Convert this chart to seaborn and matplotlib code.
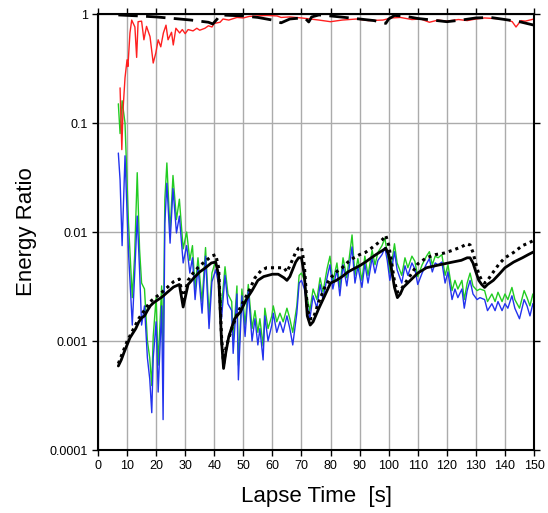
import numpy as np
import pandas as pd
import matplotlib
matplotlib.use("Agg")
import matplotlib.pyplot as plt
import matplotlib.ticker as mticker
import seaborn as sns

# Estilo base
sns.set_style("ticks")
plt.rcParams['font.family'] = ['Liberation Sans', 'DejaVu Sans']
plt.rcParams['text.color'] = 'black'
plt.rcParams['axes.labelcolor'] = 'black'

# --- Datos ---
# Componentes verde / azul (mismo eje de tiempo)
t_gb = [7.0, 7.6, 8.3, 9.3, 10.5, 11.8, 12.6, 13.5, 14.3, 15.0,
        16.0, 17.0, 17.8, 18.5, 19.0, 20.0, 20.7, 21.9, 22.4, 23.0,
        23.7, 24.8, 25.8, 27.0, 28.0, 29.3, 30.5, 31.6, 32.5, 33.4,
        34.4, 35.8, 37.0, 38.2, 39.2, 40.5, 41.5, 42.5, 43.7, 44.7,
        46.0, 46.5, 47.8, 48.3, 49.5, 50.6, 51.7, 53.0, 54.0, 55.0,
        55.7, 56.8, 57.4, 58.5, 59.8, 60.3, 61.5, 62.6, 63.7, 65.0,
        66.0, 67.0, 68.4, 69.2, 70.0, 71.0, 71.8, 72.9, 74.0, 75.3,
        76.4, 77.4, 78.8, 79.8, 80.8, 82.2, 83.2, 84.3, 85.6, 87.4,
        88.4, 89.4, 90.8, 91.8, 92.9, 94.3, 95.3, 96.3, 97.7, 98.7,
        99.5, 100.4, 101.5, 102.0, 102.9, 104.5, 105.6, 106.6, 108.0, 109.0,
        110.0, 111.5, 113.0, 114.0, 115.0, 116.0, 117.0, 118.3, 119.4, 120.4,
        121.8, 122.8, 123.8, 125.2, 126.0, 127.0, 128.0, 129.0, 130.4, 131.4,
        133.0, 134.0, 135.5, 136.6, 137.6, 139.0, 140.0, 141.0, 142.4, 143.4,
        145.0, 146.6, 147.6, 148.6, 149.6, 150.0]

azul = [0.053, 0.030, 0.0075, 0.050, 0.0065, 0.0014, 0.0040, 0.014, 0.0045, 0.0014,
        0.0021, 0.0007, 0.00045, 0.00022, 0.0007, 0.0015, 0.00034, 0.0021, 0.00019, 0.012,
        0.028, 0.0079, 0.025, 0.0098, 0.014, 0.0052, 0.0075, 0.0042, 0.0058, 0.0024,
        0.0048, 0.0018, 0.0060, 0.0013, 0.0035, 0.0045, 0.0033, 0.0016, 0.0040, 0.0022,
        0.0019, 0.00077, 0.0027, 0.00044, 0.0026, 0.0011, 0.0029, 0.0010, 0.0016, 0.00092,
        0.0013, 0.00067, 0.0017, 0.0010, 0.0014, 0.0018, 0.0012, 0.0015, 0.0012, 0.0017,
        0.0013, 0.00092, 0.0018, 0.0034, 0.0036, 0.0030, 0.0022, 0.0016, 0.0026, 0.0020,
        0.0033, 0.0024, 0.0038, 0.0050, 0.0030, 0.0045, 0.0026, 0.0050, 0.0032, 0.0073,
        0.0034, 0.0048, 0.0031, 0.0051, 0.0034, 0.0058, 0.0042, 0.0055, 0.0062, 0.0072,
        0.0055, 0.0036, 0.0055, 0.0066, 0.0045, 0.0034, 0.0049, 0.0040, 0.0052, 0.0046,
        0.0033, 0.0042, 0.0051, 0.0057, 0.0043, 0.0052, 0.0050, 0.0053, 0.0034, 0.0043,
        0.0024, 0.0030, 0.0025, 0.0030, 0.0020, 0.0029, 0.0036, 0.0027, 0.0024, 0.0025,
        0.0024, 0.0019, 0.0022, 0.0019, 0.0023, 0.0019, 0.0022, 0.0020, 0.0026, 0.0020,
        0.0016, 0.0024, 0.0021, 0.0017, 0.0022, 0.0020]

verde = [0.15, 0.08, 0.16, 0.10, 0.012, 0.0025, 0.0060, 0.035, 0.0070, 0.0034,
         0.0030, 0.0010, 0.0007, 0.00039, 0.0011, 0.0025, 0.0006, 0.0032, 0.0007, 0.020,
         0.043, 0.010, 0.033, 0.013, 0.020, 0.0070, 0.010, 0.0055, 0.0075, 0.0030,
         0.0058, 0.0023, 0.0072, 0.0017, 0.0042, 0.0055, 0.0040, 0.0021, 0.0048, 0.0027,
         0.0023, 0.0010, 0.0032, 0.0006, 0.0030, 0.0014, 0.0033, 0.0013, 0.0019, 0.0012,
         0.0016, 0.0009, 0.0020, 0.0013, 0.0017, 0.0021, 0.0015, 0.0018, 0.0015, 0.0020,
         0.0016, 0.0012, 0.0021, 0.0040, 0.0042, 0.0036, 0.0026, 0.0019, 0.0030, 0.0024,
         0.0038, 0.0028, 0.0046, 0.0060, 0.0035, 0.0052, 0.0031, 0.0058, 0.0038, 0.0094,
         0.0040, 0.0057, 0.0036, 0.0060, 0.0040, 0.0068, 0.0050, 0.0065, 0.0075, 0.0088,
         0.0064, 0.0042, 0.0063, 0.0078, 0.0052, 0.0040, 0.0058, 0.0047, 0.0060, 0.0054,
         0.0039, 0.0050, 0.0060, 0.0066, 0.0050, 0.0060, 0.0058, 0.0062, 0.0040, 0.0050,
         0.0029, 0.0036, 0.0030, 0.0036, 0.0024, 0.0034, 0.0042, 0.0032, 0.0029, 0.0030,
         0.0029, 0.0023, 0.0027, 0.0023, 0.0028, 0.0023, 0.0027, 0.0024, 0.0031, 0.0024,
         0.0020, 0.0029, 0.0025, 0.0021, 0.0027, 0.0024]

# Componente roja (cercana a 1)
t_rojo = [7.6, 8.2, 8.6, 9.3, 10.0, 10.3, 11.0, 11.6, 12.7, 13.3,
          13.8, 15.0, 15.8, 16.7, 17.9, 19.0, 19.9, 20.7, 21.6, 22.5,
          23.4, 24.1, 25.3, 25.9, 26.8, 28.1, 29.0, 30.0, 31.0, 32.7,
          34.0, 35.0, 36.8, 38.0, 39.2, 40.0, 42.0, 43.0, 45.0, 47.8,
          50.0, 52.0, 54.7, 58.0, 61.6, 63.0, 66.0, 70.0, 73.0, 76.0,
          80.0, 84.0, 89.0, 93.0, 98.0, 101.0, 104.0, 108.0, 111.0, 114.0,
          117.0, 120.0, 124.0, 127.0, 130.0, 133.0, 136.0, 139.0, 141.0, 142.5,
          143.8, 145.5, 147.0, 150.0]
rojo = [0.21, 0.057, 0.13, 0.26, 0.38, 0.33, 0.67, 0.88, 0.76, 0.40,
        0.85, 0.86, 0.58, 0.77, 0.62, 0.355, 0.44, 0.58, 0.50, 0.67,
        0.79, 0.58, 0.68, 0.52, 0.74, 0.67, 0.72, 0.66, 0.72, 0.70,
        0.74, 0.71, 0.74, 0.78, 0.76, 0.82, 0.84, 0.90, 0.88, 0.93,
        0.92, 0.95, 0.96, 0.97, 0.96, 0.93, 0.94, 0.92, 0.90, 0.88,
        0.85, 0.88, 0.90, 0.87, 0.88, 0.92, 0.93, 0.89, 0.90, 0.84,
        0.88, 0.86, 0.89, 0.87, 0.90, 0.92, 0.91, 0.90, 0.88, 0.85,
        0.76, 0.87, 0.86, 0.90]

# Curva negra discontinua (arriba)
t_disc = [7, 14, 20, 24, 28, 32, 35, 38, 39.5, 41,
          42, 46, 50, 55, 60, 63, 66, 70, 71.5, 72.5,
          73.5, 76, 80, 85, 90, 95, 99, 100, 102, 106,
          110, 115, 120, 125, 130, 135, 140, 145, 150]
negro_disc = [0.98, 0.96, 0.94, 0.92, 0.90, 0.88, 0.86, 0.84, 0.81, 0.90,
              0.98, 0.97, 0.96, 0.93, 0.88, 0.83, 0.90, 0.92, 0.90, 0.845,
              0.94, 0.98, 0.96, 0.93, 0.90, 0.87, 0.82, 0.90, 0.97, 0.95,
              0.91, 0.88, 0.85, 0.88, 0.92, 0.93, 0.89, 0.85, 0.79]

# Curva negra continua (abajo)
t_cont = [7, 8, 9, 10, 11, 12, 13, 14, 15, 16,
          17, 18, 19, 20, 22, 24, 26, 28, 29.3, 31,
          33, 35, 37, 39, 40.5, 41.5, 42.5, 43.2, 44, 45,
          47, 49, 51, 53, 55, 57, 60, 62, 64, 65,
          66, 68, 69, 70, 71, 72, 73, 74, 76, 78,
          80, 82, 84, 86, 88, 90, 92, 94, 96, 98,
          99, 100, 101, 102, 103, 104, 105, 107, 110, 113,
          116, 119, 122, 125, 127, 128, 129, 130, 131, 132,
          133, 134, 136, 138, 140, 143, 146, 148, 150]
negro_cont = [0.00059, 0.00067, 0.00079, 0.00092, 0.00107, 0.00118, 0.0013, 0.00149, 0.00163, 0.0017,
              0.0019, 0.0021, 0.00223, 0.00233, 0.00253, 0.00282, 0.00313, 0.0033, 0.00205, 0.0033,
              0.0038, 0.0043, 0.0047, 0.0052, 0.0053, 0.0040, 0.0010, 0.00056, 0.00079, 0.0011,
              0.0016, 0.00185, 0.0024, 0.0029, 0.0036, 0.0039, 0.0041, 0.0041, 0.0038, 0.0036,
              0.0039, 0.0053, 0.0058, 0.0058, 0.0040, 0.0017, 0.0014, 0.0015, 0.0020, 0.0026,
              0.0034, 0.0036, 0.0039, 0.0043, 0.0046, 0.0049, 0.0053, 0.0058, 0.0063, 0.0068,
              0.0071, 0.0062, 0.0045, 0.0031, 0.0025, 0.0027, 0.0031, 0.0035, 0.0042, 0.0047,
              0.0049, 0.0051, 0.0053, 0.0055, 0.0058, 0.0058, 0.0052, 0.0043, 0.0036, 0.0033,
              0.0031, 0.0033, 0.0036, 0.0041, 0.0047, 0.0053, 0.0058, 0.0062, 0.0066]

# Curva negra punteada (abajo)
t_punt = [7, 10, 14, 18, 22, 26, 28, 29.3, 31, 33,
          35, 37, 39, 40.5, 41.5, 42.5, 43.2, 44, 46, 48,
          50, 52, 54, 56, 58, 60, 62, 64, 65, 66,
          68, 69, 70, 71, 72, 73, 74, 76, 78, 80,
          82, 84, 86, 88, 90, 92, 94, 96, 98, 99,
          100, 101, 102, 103, 104, 106, 108, 110, 113, 116,
          119, 122, 125, 127, 128, 129, 130, 131, 132, 133,
          134, 136, 138, 140, 143, 146, 148, 150]
negro_punt = [0.00062, 0.00099, 0.0016, 0.0023, 0.0028, 0.0035, 0.0037, 0.0024, 0.0036, 0.0043,
              0.0049, 0.0054, 0.0060, 0.0062, 0.0047, 0.0011, 0.00062, 0.00086, 0.0013, 0.0018,
              0.0023, 0.0029, 0.0038, 0.0044, 0.0047, 0.0047, 0.0047, 0.0047, 0.0043, 0.0049,
              0.0065, 0.0071, 0.0073, 0.0049, 0.0020, 0.0016, 0.0016, 0.0023, 0.0031, 0.0038,
              0.0043, 0.0047, 0.0053, 0.0058, 0.0062, 0.0065, 0.0071, 0.0078, 0.0086, 0.0093,
              0.0076, 0.0053, 0.0035, 0.0028, 0.0029, 0.0035, 0.0042, 0.0051, 0.0058, 0.0062,
              0.0064, 0.0068, 0.0073, 0.0078, 0.0076, 0.0065, 0.0051, 0.0041, 0.0036, 0.0034,
              0.0036, 0.0043, 0.0051, 0.0058, 0.0065, 0.0075, 0.0079, 0.0084]

ticks_y = [1e-4, 1e-3, 1e-2, 1e-1, 1]
etiquetas_y = ["0.0001", "0.001", "0.01", "0.1", "1"]
ticks_x = list(range(0, 151, 10))

# --- Figura ---
fig = plt.figure(figsize=(5.48, 5.13), dpi=100)
ax = fig.add_axes([0.1788, 0.1228, 0.7957, 0.8499])

ax.set_yscale("log")
for x in ticks_x:
    ax.axvline(x, color="#ababab", lw=1.0, zorder=0)
for y in ticks_y:
    ax.axhline(y, color="#ababab", lw=1.0, zorder=0)

sns.lineplot(x=t_gb, y=verde, color="#22cc22", lw=1.0, ax=ax, estimator=None, sort=False)
sns.lineplot(x=t_gb, y=azul, color="#2233ee", lw=1.0, ax=ax, estimator=None, sort=False)
sns.lineplot(x=t_rojo, y=rojo, color="#ff2020", lw=1.0, ax=ax, estimator=None, sort=False)
sns.lineplot(x=t_disc, y=negro_disc, color="black", lw=2.0, ax=ax, estimator=None, sort=False,
             linestyle=(0, (7, 3)))
sns.lineplot(x=t_cont, y=negro_cont, color="black", lw=2.0, ax=ax, estimator=None, sort=False)
sns.lineplot(x=t_punt, y=negro_punt, color="black", lw=2.2, ax=ax, estimator=None, sort=False,
             linestyle=(0, (1, 1.3)))

ax.set_xlim(0, 150)
ax.set_ylim(1e-4, 1)
ax.set_xticks(ticks_x)
ax.set_xticklabels([str(v) for v in ticks_x])
ax.yaxis.set_major_locator(mticker.FixedLocator(ticks_y))
ax.yaxis.set_major_formatter(mticker.FixedFormatter(etiquetas_y))
ax.yaxis.set_minor_locator(mticker.NullLocator())

ax.tick_params(axis="both", which="major", direction="out", length=4, width=1,
               labelsize=9, colors="black", top=True, right=True,
               labeltop=False, labelright=False, pad=3)
for s in ax.spines.values():
    s.set_visible(True)
    s.set_color("black")
    s.set_linewidth(1.5)

ax.set_xlabel("Lapse Time  [s]", fontsize=16, labelpad=10, color="black")
ax.set_ylabel("Energy Ratio", fontsize=16, labelpad=9, color="black")

fig.savefig("out.png", dpi=100)
